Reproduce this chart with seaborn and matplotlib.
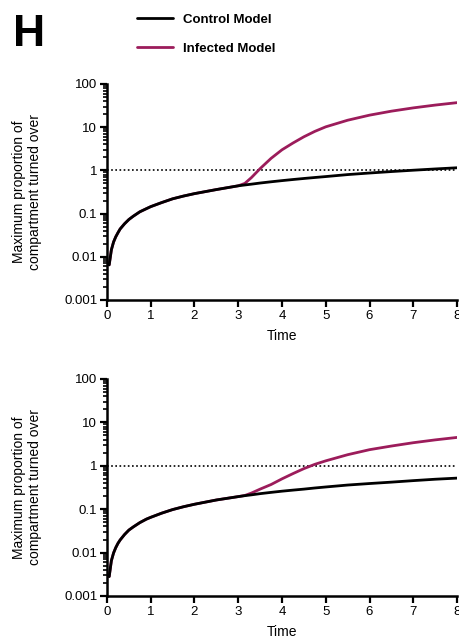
import numpy as np
import pandas as pd
import matplotlib
matplotlib.use("Agg")
import matplotlib.pyplot as plt
import matplotlib.ticker as mticker
import seaborn as sns

# === Data ===
time = [0.05, 0.1, 0.15, 0.2, 0.25, 0.3, 0.4, 0.5, 0.6, 0.75, 0.9, 1, 1.25, 1.5, 1.75, 2,
        2.5, 3, 3.15, 3.3, 3.5, 3.75, 4, 4.25, 4.5, 4.75, 5, 5.5, 6, 6.5, 7, 7.5, 8]

top_control = [0.0065, 0.0145, 0.022, 0.029, 0.036, 0.044, 0.058, 0.073, 0.087, 0.11, 0.13,
               0.145, 0.18, 0.22, 0.255, 0.29, 0.36, 0.44, 0.46, 0.48, 0.51, 0.545, 0.58,
               0.615, 0.65, 0.685, 0.72, 0.8, 0.87, 0.94, 1.01, 1.08, 1.15]
top_infected = [0.0065, 0.0145, 0.022, 0.029, 0.036, 0.044, 0.058, 0.073, 0.087, 0.11, 0.13,
                0.145, 0.18, 0.22, 0.255, 0.29, 0.36, 0.44, 0.5, 0.68, 1.1, 1.9, 3.0,
                4.3, 6.0, 8.0, 10.2, 14.5, 19.0, 23.5, 28.0, 32.5, 37.0]

bottom_control = [0.0028, 0.0065, 0.0098, 0.013, 0.0163, 0.0195, 0.026, 0.033, 0.039, 0.049,
                  0.059, 0.065, 0.081, 0.098, 0.114, 0.13, 0.163, 0.195, 0.205, 0.214, 0.228,
                  0.244, 0.26, 0.275, 0.29, 0.308, 0.325, 0.36, 0.39, 0.42, 0.455, 0.49, 0.52]
bottom_infected = [0.0028, 0.0065, 0.0098, 0.013, 0.0163, 0.0195, 0.026, 0.033, 0.039, 0.049,
                   0.059, 0.065, 0.081, 0.098, 0.114, 0.13, 0.163, 0.195, 0.207, 0.235, 0.29,
                   0.37, 0.5, 0.66, 0.86, 1.08, 1.3, 1.8, 2.35, 2.85, 3.4, 3.95, 4.5]

models = ["Control Model", "Infected Model"]
colors = {"Control Model": "#000000", "Infected Model": "#9c1c5b"}
y_ticks = [0.001, 0.01, 0.1, 1, 10, 100]
y_ticklabels = ["0.001", "0.01", "0.1", "1", "10", "100"]

sns.set_style("ticks")
plt.rcParams['font.family'] = ['Liberation Sans', 'DejaVu Sans']
plt.rcParams['text.color'] = 'black'
plt.rcParams['axes.labelcolor'] = 'black'
plt.rcParams['xtick.color'] = 'black'
plt.rcParams['ytick.color'] = 'black'
plt.rcParams['axes.edgecolor'] = 'black'

fig = plt.figure(figsize=(4.6, 6.4), dpi=100)
ax_top = fig.add_axes([0.2326, 0.53125, 0.7609, 0.3375])
ax_bot = fig.add_axes([0.2326, 0.06875, 0.7609, 0.3391])


def draw_panel(ax, control, infected):
    df = pd.DataFrame({
        "Time": time * 2,
        "Value": infected + control,
        "Model": ["Infected Model"] * len(time) + ["Control Model"] * len(time),
    })
    # infected first so control sits on top
    for m in ["Infected Model", "Control Model"]:
        sns.lineplot(data=df[df["Model"] == m], x="Time", y="Value", color=colors[m],
                     lw=2.0, ax=ax, label=m, legend=False)
    ax.axhline(1, color="black", ls=(0, (1, 1.5)), lw=1.2, zorder=0)
    ax.set_yscale("log")
    ax.set_xlim(0, 8)
    ax.set_ylim(0.001, 100)
    ax.set_xticks(range(9))
    ax.set_yticks(y_ticks)
    ax.set_yticklabels(y_ticklabels)
    ax.yaxis.set_minor_locator(mticker.LogLocator(base=10, subs=np.arange(2, 10), numticks=20))
    ax.yaxis.set_minor_formatter(mticker.NullFormatter())
    sns.despine(ax=ax)
    for s in ["left", "bottom"]:
        ax.spines[s].set_linewidth(1.8)
    ax.tick_params(axis="both", which="major", length=5, width=1.6, labelsize=9.5, pad=2)
    ax.tick_params(axis="y", which="minor", length=3, width=1.2)
    ax.set_xlabel("Time", fontsize=10, labelpad=5)
    ax.set_ylabel("Maximum proportion of\ncompartment turned over", fontsize=10, labelpad=16)


draw_panel(ax_top, top_control, top_infected)
draw_panel(ax_bot, bottom_control, bottom_infected)

handles, labels = ax_top.get_legend_handles_labels()
order = [labels.index(m) for m in models]
leg = fig.legend([handles[i] for i in order], [labels[i] for i in order],
                 loc="upper left", bbox_to_anchor=(0.273, 0.997), frameon=False,
                 handlelength=2.7, handletextpad=0.75, labelspacing=1.25,
                 prop={"weight": "bold", "size": 9.5})

fig.text(0.028, 0.978, "H", fontsize=32, fontweight="bold", va="top", ha="left")

fig.savefig("out.png", dpi=100)
